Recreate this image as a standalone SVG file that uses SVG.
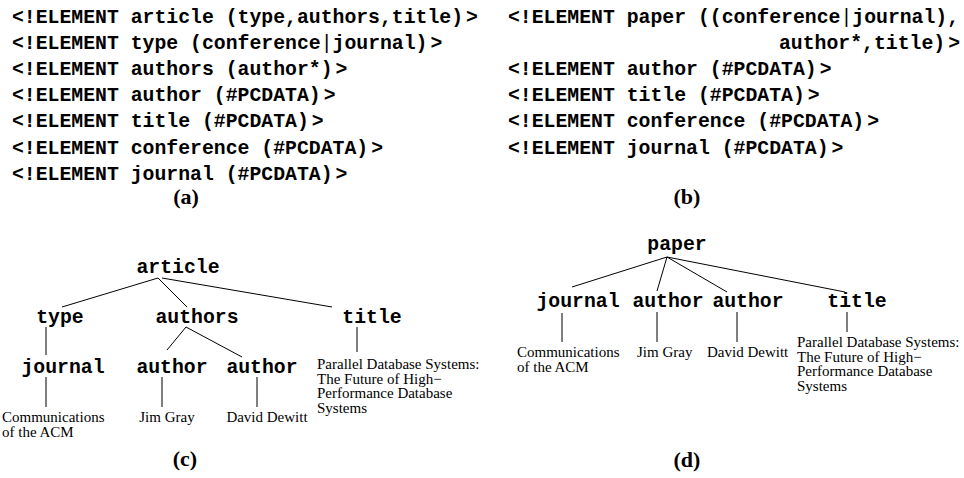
<svg xmlns="http://www.w3.org/2000/svg" width="964" height="478" viewBox="0 0 964 478">
<style>
.code{font-family:"Liberation Mono","Courier New",monospace;font-weight:bold;font-size:19.8px;fill:#000}
.node{font-family:"Liberation Mono","Courier New",monospace;font-weight:bold;font-size:19.8px;fill:#000;text-anchor:middle}
.leaf{font-family:"Liberation Serif","Times New Roman",serif;font-size:15px;fill:#000}
.cap{font-family:"Liberation Serif","Times New Roman",serif;font-weight:bold;font-size:22px;fill:#000;text-anchor:middle}
.bar{font-weight:normal}
.edge{stroke:#000;stroke-width:1;fill:none}
</style>
<rect width="964" height="478" fill="#fff"/>
<g id="dtd-a">
<text class="code" x="12" y="22.5">&lt;!ELEMENT article (type,authors,title)<tspan dx="3">&gt;</tspan></text>
<text class="code" x="12" y="48.7">&lt;!ELEMENT type (conference<tspan class="bar">|</tspan>journal)<tspan dx="3">&gt;</tspan></text>
<text class="code" x="12" y="74.9">&lt;!ELEMENT authors (author*)<tspan dx="3">&gt;</tspan></text>
<text class="code" x="12" y="101.1">&lt;!ELEMENT author (#PCDATA)<tspan dx="3">&gt;</tspan></text>
<text class="code" x="12" y="127.3">&lt;!ELEMENT title (#PCDATA)<tspan dx="3">&gt;</tspan></text>
<text class="code" x="12" y="153.5">&lt;!ELEMENT conference (#PCDATA)<tspan dx="3">&gt;</tspan></text>
<text class="code" x="12" y="179.7">&lt;!ELEMENT journal (#PCDATA)<tspan dx="3">&gt;</tspan></text>
<text class="cap" x="186" y="203.5">(a)</text>
</g>
<g id="dtd-b">
<text class="code" x="508" y="22.5">&lt;!ELEMENT paper ((conference<tspan class="bar">|</tspan>journal),</text>
<text class="code" x="779" y="48.7">author*,title)<tspan dx="3">&gt;</tspan></text>
<text class="code" x="508" y="74.9">&lt;!ELEMENT author (#PCDATA)<tspan dx="3">&gt;</tspan></text>
<text class="code" x="508" y="101.1">&lt;!ELEMENT title (#PCDATA)<tspan dx="3">&gt;</tspan></text>
<text class="code" x="508" y="127.3">&lt;!ELEMENT conference (#PCDATA)<tspan dx="3">&gt;</tspan></text>
<text class="code" x="508" y="153.5">&lt;!ELEMENT journal (#PCDATA)<tspan dx="3">&gt;</tspan></text>
<text class="cap" x="687" y="203.5">(b)</text>
</g>
<g id="connectors">
<line class="edge" x1="158" y1="278" x2="62" y2="307"/>
<line class="edge" x1="158" y1="278" x2="187" y2="307"/>
<line class="edge" x1="162" y1="278" x2="332" y2="307"/>
<line class="edge" x1="46" y1="327" x2="46" y2="355"/>
<line class="edge" x1="186" y1="327" x2="167" y2="350"/>
<line class="edge" x1="186" y1="327" x2="242" y2="357"/>
<line class="edge" x1="357" y1="327" x2="357" y2="352"/>
<line class="edge" x1="46" y1="377" x2="46" y2="407"/>
<line class="edge" x1="162" y1="377" x2="162" y2="407"/>
<line class="edge" x1="257" y1="377" x2="257" y2="407"/>
<line class="edge" x1="667" y1="257" x2="572" y2="287"/>
<line class="edge" x1="667" y1="257" x2="657" y2="291"/>
<line class="edge" x1="667" y1="257" x2="727" y2="292"/>
<line class="edge" x1="667" y1="257" x2="845" y2="292"/>
<line class="edge" x1="562" y1="313" x2="562" y2="342"/>
<line class="edge" x1="657" y1="312" x2="657" y2="342"/>
<line class="edge" x1="737" y1="312" x2="737" y2="342"/>
<line class="edge" x1="847" y1="312" x2="847" y2="332"/>
</g>
<g id="c-article"><text class="node" x="178" y="273">article</text></g>
<g id="c-type"><text class="node" x="60" y="323">type</text></g>
<g id="c-authors"><text class="node" x="197" y="323">authors</text></g>
<g id="c-title"><text class="node" x="372" y="323">title</text></g>
<g id="c-journal"><text class="node" x="63" y="373">journal</text></g>
<g id="c-author1"><text class="node" x="172" y="373">author</text></g>
<g id="c-author2"><text class="node" x="262" y="373">author</text></g>
<g id="c-leaf-journal"><text class="leaf" x="2" y="422">Communications</text><text class="leaf" x="2" y="436.5">of the ACM</text></g>
<g id="c-leaf-author1"><text class="leaf" x="167" y="422" text-anchor="middle">Jim Gray</text></g>
<g id="c-leaf-author2"><text class="leaf" x="267" y="422" text-anchor="middle">David Dewitt</text></g>
<g id="c-leaf-title"><text class="leaf" x="317" y="369">Parallel Database Systems:</text><text class="leaf" x="317" y="383.5">The Future of High−</text><text class="leaf" x="317" y="398">Performance Database</text><text class="leaf" x="317" y="412.5">Systems</text></g>
<text class="cap" x="185" y="466">(c)</text>
<g id="d-paper"><text class="node" x="677" y="250">paper</text></g>
<g id="d-journal"><text class="node" x="578" y="307">journal</text></g>
<g id="d-author1"><text class="node" x="668" y="307">author</text></g>
<g id="d-author2"><text class="node" x="748" y="307">author</text></g>
<g id="d-title"><text class="node" x="857" y="307">title</text></g>
<g id="d-leaf-journal"><text class="leaf" x="517" y="357">Communications</text><text class="leaf" x="517" y="371.5">of the ACM</text></g>
<g id="d-leaf-author1"><text class="leaf" x="637" y="357">Jim Gray</text></g>
<g id="d-leaf-author2"><text class="leaf" x="707" y="357">David Dewitt</text></g>
<g id="d-leaf-title"><text class="leaf" x="797" y="347">Parallel Database Systems:</text><text class="leaf" x="797" y="361.5">The Future of High−</text><text class="leaf" x="797" y="376">Performance Database</text><text class="leaf" x="797" y="390.5">Systems</text></g>
<text class="cap" x="687" y="467">(d)</text>
</svg>
